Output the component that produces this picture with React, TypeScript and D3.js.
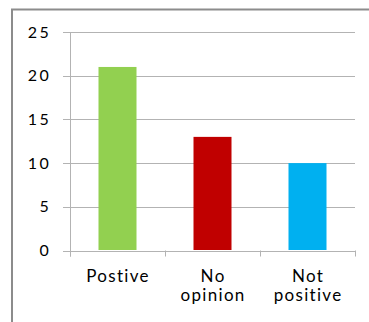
import React from "react";
import * as d3 from "d3";

const categories: string[][] = [["Postive"], ["No", "opinion"], ["Not", "positive"]];
const values: number[] = [21, 13, 10];
const colors: string[] = ["#92d050", "#c00000", "#00b0f0"];
const yTicks: number[] = [0, 5, 10, 15, 20, 25];

const W = 369;
const H = 322;
const left = 70;
const right = 355;
const top = 32;
const bottom = 250.5;

export default function App() {
  const x = d3
    .scaleBand<number>()
    .domain(values.map((_, i) => i))
    .range([left, right])
    .paddingInner(0.6)
    .paddingOuter(0.3);
  const band = d3.scaleBand<number>().domain(values.map((_, i) => i)).range([left, right]);
  const y = d3.scaleLinear().domain([0, 25]).range([bottom, top]);
  const font = "Lato, 'Open Sans', 'DejaVu Sans', sans-serif";

  return (
    <svg
      width={W}
      height={H}
      style={{ position: "absolute", left: 0, top: 0, display: "block" }}
      fontFamily={font}
    >
      <rect x={0} y={0} width={W} height={H} fill="#ffffff" />
      {/* outer frame */}
      <path d={`M12,${H + 2} V9.5 H${W + 2}`} fill="none" stroke="#8c8c8c" strokeWidth={2} />
      {/* gridlines and y ticks */}
      {yTicks.map((t) => (
        <g key={t}>
          <line
            x1={63}
            x2={right}
            y1={Math.round(y(t)) + 0.5}
            y2={Math.round(y(t)) + 0.5}
            stroke="#b3b3b3"
            strokeWidth={1}
          />
          <text
            x={51.5}
            y={y(t) + 5.5}
            textAnchor="end"
            fontSize={16}
            letterSpacing={2.6}
            fill="#000"
          >
            {t}
          </text>
        </g>
      ))}
      {/* y axis */}
      <line x1={70.5} x2={70.5} y1={Math.round(top) + 0.5} y2={bottom + 6} stroke="#b3b3b3" />
      {/* x ticks */}
      {[...band.domain().map((d) => band(d)!), right].map((px, i) => (
        <line
          key={i}
          x1={Math.round(px) + 0.5}
          x2={Math.round(px) + 0.5}
          y1={bottom}
          y2={bottom + 6}
          stroke="#b3b3b3"
        />
      ))}
      {/* bars */}
      {values.map((v, i) => (
        <rect
          key={i}
          x={x(i)!}
          y={y(v)}
          width={x.bandwidth()}
          height={y(0) - y(v) - 0.5}
          fill={colors[i]}
        />
      ))}
      {/* category labels */}
      {categories.map((lines, i) =>
        lines.map((l, j) => (
          <text
            key={`${i}-${j}`}
            x={band(i)! + band.bandwidth() / 2 + 0.6}
            y={282 + j * 19}
            textAnchor="middle"
            fontSize={17}
            letterSpacing={1.3}
            fill="#000"
          >
            {l}
          </text>
        ))
      )}
    </svg>
  );
}
